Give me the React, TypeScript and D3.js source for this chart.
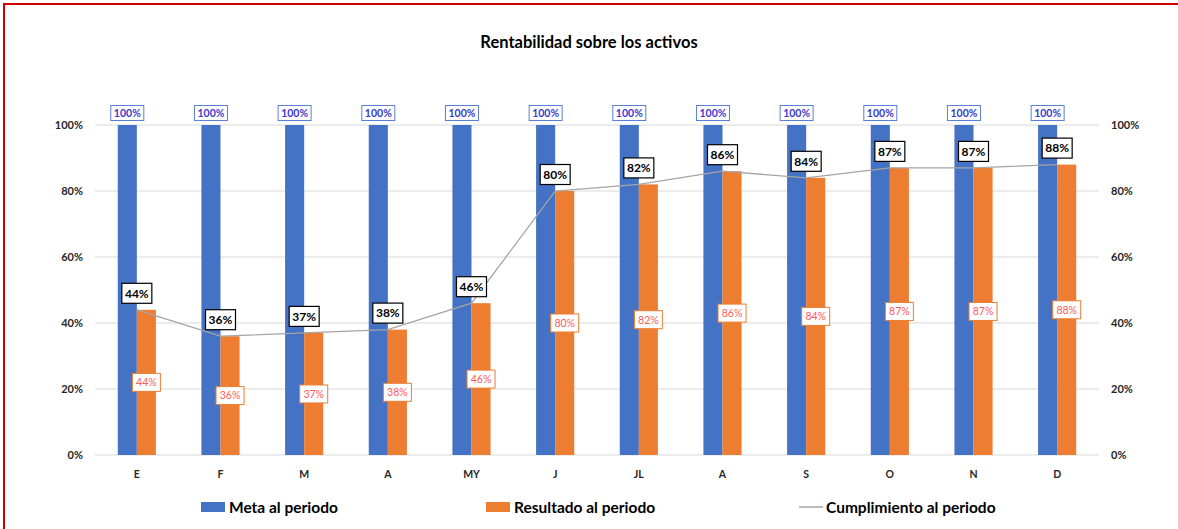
import React from "react";
import * as d3 from "d3";

const categories = ["E", "F", "M", "A", "MY", "J", "JL", "A", "S", "O", "N", "D"];
const meta = [100, 100, 100, 100, 100, 100, 100, 100, 100, 100, 100, 100];
const resultado = [44, 36, 37, 38, 46, 80, 82, 86, 84, 87, 87, 88];
const cumplimiento = [44, 36, 37, 38, 46, 80, 82, 86, 84, 87, 87, 88];
const yTicks = [0, 20, 40, 60, 80, 100];

const W = 1178;
const H = 529;
const FONT = "Lato, 'Open Sans', sans-serif";
const BLUE = "#4472c4";
const ORANGE = "#ed7d31";
const GRAY = "#a5a5a5";

export default function App() {
  const x = d3.scaleBand<number>().domain(d3.range(categories.length)).range([95, 1099]).padding(0);
  const y = d3.scaleLinear().domain([0, 100]).range([455, 125]);
  const bw = x.step() * 0.228;
  const cx = (i: number) => (x(i) as number) + x.bandwidth() / 2;
  const line = d3
    .line<number>()
    .x((_, i) => cx(i))
    .y((d) => y(d));

  return (
    <svg width={W} height={H} style={{ position: "absolute", left: 0, top: 0 }} fontFamily={FONT}>
      <rect x={0} y={0} width={W} height={H} fill="#fff" />
      <rect x={4} y={4} width={W + 10} height={H + 10} fill="none" stroke="#d00000" strokeWidth={2} />
      <text x={589} y={48} textAnchor="middle" fontSize={16.5} fontWeight="bold" fill="#000">
        Rentabilidad sobre los activos
      </text>
      {yTicks.map((t) => (
        <g key={t}>
          <line x1={95} x2={1099} y1={y(t)} y2={y(t)} stroke="#d9d9d9" strokeWidth={1} />
          <text x={83} y={y(t) + 4} textAnchor="end" fontSize={11} fontWeight="bold" fill="#262626">
            {t}%
          </text>
          <text x={1111} y={y(t) + 4} textAnchor="start" fontSize={11} fontWeight="bold" fill="#262626">
            {t}%
          </text>
        </g>
      ))}
      {categories.map((c, i) => (
        <text key={i} x={cx(i)} y={478} textAnchor="middle" fontSize={10.5} fontWeight="bold" fill="#262626">
          {c}
        </text>
      ))}
      {meta.map((v, i) => (
        <rect key={"m" + i} x={cx(i) - bw} y={y(v)} width={bw} height={y(0) - y(v)} fill={BLUE} />
      ))}
      {resultado.map((v, i) => (
        <rect key={"r" + i} x={cx(i)} y={y(v)} width={bw} height={y(0) - y(v)} fill={ORANGE} />
      ))}
      <path d={line(cumplimiento) || ""} fill="none" stroke={GRAY} strokeWidth={1.3} />
      {meta.map((v, i) => {
        const bx = cx(i) - bw / 2;
        const by = y(v) - 12;
        return (
          <g key={"ml" + i}>
            <rect x={bx - 16.5} y={by - 7.5} width={33} height={15} fill="#fff" stroke="#5b7fd8" strokeWidth={1} />
            <text x={bx} y={by + 3.8} textAnchor="middle" fontSize={10.5} fontWeight="bold" fill="#3a3ad0">
              {v}%
            </text>
          </g>
        );
      })}
      {resultado.map((v, i) => {
        const bx = cx(i) + bw / 2;
        const by = (y(v) + y(0)) / 2;
        return (
          <g key={"rl" + i}>
            <rect x={bx - 14} y={by - 9} width={28} height={18} fill="#fff" stroke={ORANGE} strokeWidth={1} />
            <text x={bx} y={by + 3.8} textAnchor="middle" fontSize={10.5} fill="#ff5a5a">
              {v}%
            </text>
          </g>
        );
      })}
      {cumplimiento.map((v, i) => {
        const bx = cx(i);
        const by = y(v) - 16.5;
        return (
          <g key={"cl" + i}>
            <rect x={bx - 15} y={by - 10} width={30} height={20} fill="#fff" stroke="#000" strokeWidth={1.2} />
            <text x={bx} y={by + 4.3} textAnchor="middle" fontSize={12} fontWeight="bold" fill="#000">
              {v}%
            </text>
          </g>
        );
      })}
      <g fontSize={15.5} fontWeight="bold" fill="#000">
        <rect x={201} y={502} width={24} height={10} fill={BLUE} />
        <text x={229} y={512.5}>Meta al periodo</text>
        <rect x={486} y={502} width={24} height={10} fill={ORANGE} />
        <text x={514} y={512.5}>Resultado al periodo</text>
        <line x1={799} x2={823} y1={507} y2={507} stroke={GRAY} strokeWidth={1.5} />
        <text x={826} y={512.5}>Cumplimiento al periodo</text>
      </g>
    </svg>
  );
}
